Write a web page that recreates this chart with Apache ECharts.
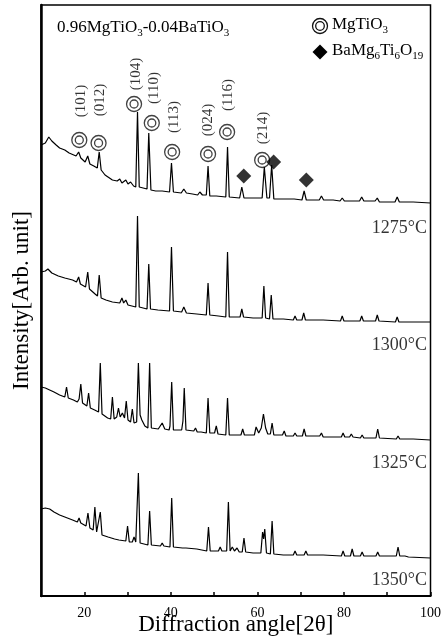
<!DOCTYPE html>
<html>
<head>
<meta charset="utf-8">
<script src="https://cdn.jsdelivr.net/npm/echarts@6/dist/echarts.min.js"></script>
<style>
  html, body { margin: 0; background: #fff; }
  #chart { width: 444px; height: 644px; }
</style>
</head>
<body>
<div id="chart"></div>
<script>
// XRD patterns, [2θ, intensity (arb.)]
const trace1275 = [
  [10,451],[11,453],[11.8,459],[12.5,455],[13.5,451],[14.3,448],[15.5,446],[16.5,443],[18.1,440],[18.7,444],[19.2,438],
  [20.2,434],[20.8,440],[21.3,432],[22.2,430],[23.0,428],[23.45,444],[23.9,426],[24.8,421],[26.5,416],[27.6,415],
  [28.2,417],[28.7,413],[29.6,416],[30.1,412],[30.7,414],[31.4,410],[31.9,409],[32.3,484],[32.7,409],[33.6,408],
  [34.5,407],[34.9,463],[35.4,406],[36.5,405],[38,405],[39.7,404],[40.15,433],[40.6,404],[42.4,403],[43,407],
  [43.6,403],[45,402],[46.2,401],[46.7,404],[47.3,401],[48.2,401],[48.6,430],[49.0,400],[50.5,400],[52.7,399],
  [53.1,449],[53.5,399],[55.9,398],[56.4,409],[56.9,398],[59,398],[61.1,398],[61.6,429],[62.2,398],[62.8,398],
  [63.3,431],[63.8,397],[66,397],[68.5,397],[70.3,396],[70.8,405],[71.3,396],[74.3,396],[74.8,400],[75.3,396],
  [77.5,396],[79.1,395],[79.6,398],[80.1,395],[83.6,395],[84.1,399],[84.6,395],[87.2,395],[87.7,398],[88.2,394],
  [91.8,394],[92.3,399],[92.8,394],[96,394],[100,393]
];
const trace1300 = [
  [10,324],[11,325],[11.6,327],[12.5,323],[14,320],[15.5,318],[17.3,316],[18.2,314],[18.7,319],[19.1,312],[20.3,309],
  [20.8,324],[21.2,307],[22.5,302],[23.05,300],[23.45,321],[23.9,298],[25,296],[26.5,294],[28.2,293],[28.7,298],
  [29.1,293],[29.6,296],[30.1,291],[31,290],[31.9,289],[32.3,380],[32.7,289],[34.5,287],[34.9,332],[35.3,287],
  [37,286],[39.7,285],[40.15,349],[40.6,285],[42.5,284],[43,289],[43.6,283],[46,282],[48.2,281],[48.6,313],
  [49,281],[51,280],[52.7,279],[53.1,344],[53.5,279],[56,279],[56.4,287],[56.8,279],[59,278],[61.1,278],[61.5,310],
  [61.9,278],[62.8,277],[63.2,301],[63.6,277],[66,277],[68.3,276],[68.7,280],[69.1,276],[70.3,276],[70.7,283],
  [71.1,276],[74.4,276],[74.8,278],[75.2,276],[79.2,275],[79.6,280],[80,275],[83.7,275],[84.1,280],[84.5,275],
  [87.3,275],[87.7,281],[88.1,275],[91.9,274],[92.3,279],[92.7,274],[96,274],[100,274]
];
const trace1325 = [
  [10,209],[11,208],[12,206],[13,204],[14.3,201],[15.5,199],[15.9,209],[16.3,198],[17.5,196],[18.4,194],[18.8,197],
  [19.2,212],[19.6,193],[20.6,190],[21,203],[21.4,188],[22.4,186],[23.3,184],[23.7,233],[24.1,182],[25.4,178],
  [26.1,177],[26.5,199],[26.9,177],[27.5,179],[27.9,188],[28.3,179],[28.8,183],[29.3,178],[29.7,195],[30.1,176],
  [30.7,174],[31.1,187],[31.5,173],[32.1,174],[32.5,233],[32.9,181],[33.3,176],[34,170],[34.7,168],[35.1,233],
  [35.5,168],[37.1,167],[38.0,173],[38.6,167],[39.6,166],[39.8,170],[40.2,214],[40.6,166],[42.5,166],[42.8,175],
  [43.1,208],[43.5,166],[45.3,165],[45.7,168],[46.1,164],[47,164],[48.2,163],[48.6,198],[49,163],[50.1,163],
  [50.5,170],[50.9,162],[52.7,161],[53.1,198],[53.5,161],[55,161],[56.2,161],[56.6,167],[57,161],[59.3,161],
  [59.7,169],[60.3,163],[60.9,168],[61.4,182],[61.9,168],[62.4,162],[63,162],[63.4,173],[63.8,161],[65.8,161],
  [66.2,165],[66.6,160],[68.3,160],[68.7,163],[69.1,160],[70.4,160],[70.8,167],[71.2,160],[74.4,160],[74.8,163],
  [75.2,159],[79.4,159],[79.8,163],[80.2,159],[81.3,159],[81.7,162],[82.1,159],[83.8,158],[84.2,161],[84.6,158],
  [87.4,158],[87.8,167],[88.2,158],[92.1,157],[92.5,160],[92.9,157],[96,157],[100,156]
];
const trace1350 = [
  [10,87],[11,88],[12,87],[13,84],[14.3,81],[15.5,79],[17.3,76],[18.4,74],[18.8,78],[19.2,73],[20.4,70],[20.85,83],
  [21.3,68],[22.05,66],[22.45,89],[22.85,64],[23.3,62],[23.7,84],[24.1,61],[25.5,59],[27,57],[28,56],[29.6,55],
  [30,70],[30.4,54],[31.1,54],[31.5,59],[31.9,54],[32.1,53],[32.5,123],[32.9,53],[34.7,51],[35.1,85],[35.5,51],
  [37.6,50],[38,53],[38.4,50],[39.8,49],[40.2,98],[40.6,49],[42.7,48],[43.1,50],[43.5,48],[46,47],[48.3,45],
  [48.7,69],[49.1,45],[51,45],[51.4,49],[51.8,45],[52.9,45],[53.3,94],[53.7,45],[54.2,49],[54.7,45],[55.3,48],
  [55.8,44],[56.5,44],[56.9,58],[57.3,44],[59,43],[60.8,43],[61.2,64],[61.45,57],[61.7,67],[62.1,43],[63,42],
  [63.4,75],[63.8,42],[66,41],[68.3,41],[68.7,45],[69.1,41],[70.8,41],[71.2,45],[71.6,41],[74.4,41],[74.8,43],
  [75.2,41],[79.4,40],[79.8,45],[80.2,40],[81.5,40],[81.9,47],[82.3,40],[83.8,40],[84.2,44],[84.6,40],[87.4,40],
  [87.8,44],[88.2,40],[92.1,40],[92.5,49],[92.9,40],[94.1,40],[94.5,42],[94.9,39],[100,38]
];

const temps = ['1275°C', '1300°C', '1325°C', '1350°C'];
const tempLevels = [368, 251, 133, 16];
const xTickLabels = [20, 40, 60, 80, 100];

// MgTiO3 reflections (ring marker + hkl) and BaMg6Ti6O19 markers
const hkl = ['(101)', '(012)', '(104)', '(110)', '(113)', '(024)', '(116)', '(214)'];
const ringPos = [[18.85,456],[23.3,453],[31.5,492],[35.6,473],[40.3,444],[48.6,442],[53.0,464],[61.1,436]];
const hklPos = [[19.3,495],[23.7,496],[32.0,522],[36.1,508],[40.7,479],[48.7,476],[53.3,501],[61.4,468]];
const diamondPos = [[56.85,420],[63.75,434],[71.3,416]];

const serif = '"Liberation Serif", "Times New Roman", serif';
const ink = '#000';

const chart = echarts.init(document.getElementById('chart'));

const traceSeries = d => ({
  type: 'line', data: d, symbol: 'none', silent: true,
  lineStyle: { color: ink, width: 1.2 }
});
const ringSeries = size => ({
  type: 'scatter', data: ringPos, symbol: 'circle', symbolSize: size, silent: true,
  itemStyle: { color: 'rgba(0,0,0,0)', borderColor: '#111', borderWidth: 1.3 }
});
const subRich = { s: { fontFamily: serif, fontSize: 11, verticalAlign: 'bottom', lineHeight: 22 } };

const option = {
  animation: false,
  grid: { left: 41, right: 12, top: 5, bottom: 48, show: true, borderColor: '#000', borderWidth: 1.5 },
  xAxis: {
    type: 'value', min: 10, max: 100, interval: 10,
    axisLine: { lineStyle: { color: '#000', width: 2 } },
    axisTick: { inside: true, length: 4, lineStyle: { color: '#000', width: 1.5 } },
    axisLabel: {
      formatter: v => xTickLabels.includes(v) ? String(v) : '',
      margin: 10, fontFamily: serif, fontSize: 14, color: ink, showMinLabel: false, showMaxLabel: true
    },
    splitLine: { show: false },
    name: 'Diffraction angle[2θ]', nameLocation: 'middle', nameGap: 17, nameMoveOverlap: false,
    nameTextStyle: { fontFamily: serif, fontSize: 23, color: ink }
  },
  yAxis: {
    type: 'value', min: 0, max: 591,
    axisLine: { show: true, lineStyle: { color: '#000', width: 2.5 } },
    axisTick: { show: false }, axisLabel: { show: false }, splitLine: { show: false },
    name: 'Intensity[Arb. unit]', nameLocation: 'middle', nameGap: 8, nameMoveOverlap: false,
    nameTextStyle: { fontFamily: serif, fontSize: 23, color: ink }
  },
  graphic: [
    {
      type: 'text', left: 57, top: 17,
      style: {
        text: '0.96MgTiO{s|3}-0.04BaTiO{s|3}', fontFamily: serif, fontSize: 17, fill: ink,
        lineHeight: 22, rich: subRich
      }
    },
    { type: 'circle', shape: { cx: 320, cy: 26, r: 7.5 }, style: { fill: 'none', stroke: '#111', lineWidth: 1.3 } },
    { type: 'circle', shape: { cx: 320, cy: 26, r: 4.3 }, style: { fill: 'none', stroke: '#111', lineWidth: 1.3 } },
    { type: 'polygon', shape: { points: [[320, 44.5], [327.5, 52], [320, 59.5], [312.5, 52]] }, style: { fill: '#000' } },
    {
      type: 'text', left: 332, top: 14,
      style: { text: 'MgTiO{s|3}', fontFamily: serif, fontSize: 17, fill: ink, lineHeight: 22, rich: subRich }
    },
    {
      type: 'text', left: 332, top: 40,
      style: { text: 'BaMg{s|6}Ti{s|6}O{s|19}', fontFamily: serif, fontSize: 17, fill: ink, lineHeight: 22, rich: subRich }
    }
  ],
  series: [
    traceSeries(trace1275),
    traceSeries(trace1300),
    traceSeries(trace1325),
    traceSeries(trace1350),
    ringSeries(15),
    ringSeries(8),
    {
      type: 'scatter', data: diamondPos, symbol: 'diamond', symbolSize: 15, silent: true,
      itemStyle: { color: '#000' }
    },
    {
      type: 'scatter', symbolSize: 1, silent: true, itemStyle: { color: 'rgba(0,0,0,0)' },
      data: hkl.map((h, i) => ({ name: h, value: hklPos[i] })),
      label: {
        show: true, position: 'inside', rotate: 90, formatter: '{b}',
        fontFamily: serif, fontSize: 15, color: ink
      }
    },
    {
      type: 'scatter', symbolSize: 1, silent: true, itemStyle: { color: 'rgba(0,0,0,0)' },
      data: temps.map((t, i) => ({ name: t, value: [100, tempLevels[i]] })),
      label: {
        show: true, position: 'left', distance: 3, formatter: '{b}',
        fontFamily: serif, fontSize: 18, color: ink
      }
    }
  ]
};

chart.setOption(option);
</script>
</body>
</html>
